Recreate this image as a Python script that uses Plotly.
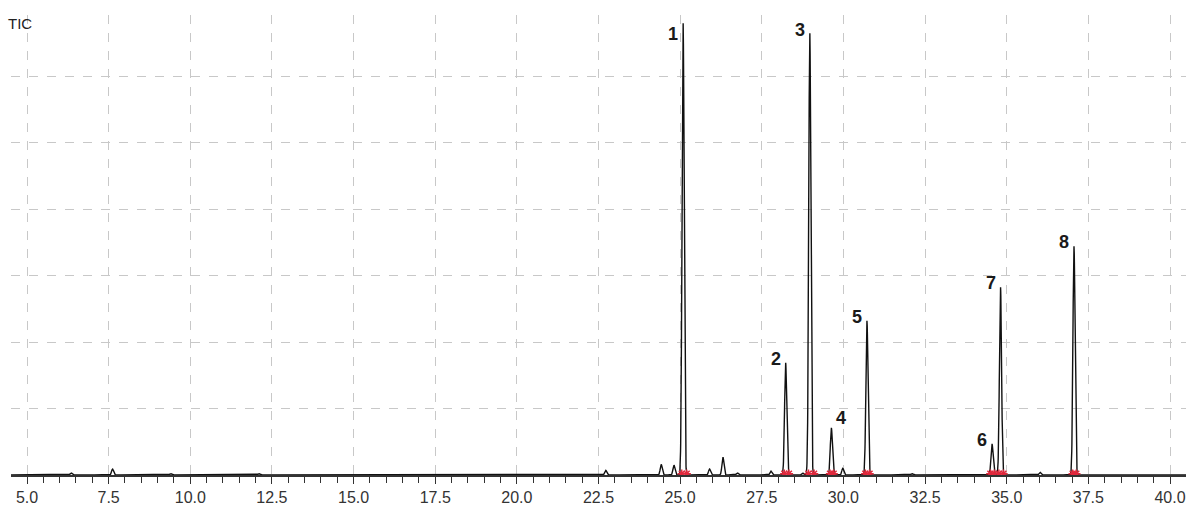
import numpy as np
import plotly.graph_objects as go

# Main (numbered) peaks: retention time (min) and apex height (grid units)
peak_times = [25.09, 28.23, 28.97, 29.63, 30.72, 34.55, 34.81, 37.06]
peak_heights = [6.81, 1.69, 6.66, 0.71, 2.32, 0.47, 2.83, 3.44]
peak_labels = ["1", "2", "3", "4", "5", "6", "7", "8"]

# Minor, unlabelled peaks
minor_times = [6.35, 7.62, 9.40, 12.10, 22.72, 24.42, 24.81, 25.90, 26.31,
               26.75, 27.78, 28.75, 29.98, 32.10, 36.02]
minor_heights = [0.03, 0.09, 0.02, 0.02, 0.07, 0.16, 0.15, 0.09, 0.27,
                 0.03, 0.06, 0.03, 0.10, 0.02, 0.04]

# Integration start/end markers on the baseline
mark_times = [25.05, 25.20, 28.19, 28.33, 28.93, 29.10, 29.59, 29.70,
              30.67, 30.80, 34.50, 34.62, 34.76, 34.90, 37.02, 37.13]

tick_vals = [5.0, 7.5, 10.0, 12.5, 15.0, 17.5, 20.0, 22.5, 25.0, 27.5,
             30.0, 32.5, 35.0, 37.5, 40.0]
tick_text = ["5.0", "7.5", "10.0", "12.5", "15.0", "17.5", "20.0", "22.5",
             "25.0", "27.5", "30.0", "32.5", "35.0", "37.5", "40.0"]

# Rendering of the signal: each peak is a narrow Gaussian on a fine time grid
t = np.arange(4.5, 40.5, 0.004)
signal = np.zeros_like(t)
for pt, ph in zip(peak_times, peak_heights):
    signal += ph * np.exp(-0.5 * ((t - pt) / 0.032) ** 2)
for pt, ph in zip(minor_times, minor_heights):
    signal += ph * np.exp(-0.5 * ((t - pt) / 0.03) ** 2)

fig = go.Figure()

fig.add_trace(go.Scatter(
    x=t, y=signal, mode="lines",
    line=dict(color="#111111", width=1.4),
    hoverinfo="skip", showlegend=False,
))

fig.add_trace(go.Scatter(
    x=mark_times, y=[0.02] * len(mark_times), mode="markers",
    marker=dict(symbol="asterisk-open", size=7, color="#e0283c",
                line=dict(color="#e0283c", width=1.5)),
    hoverinfo="skip", showlegend=False,
))

# Peak number labels beside each apex (peak 4 is labelled on its right)
label_side = ["left", "left", "left", "right", "left", "left", "left", "left"]
label_yshift = [-12, 4, 2, 10, 4, 4, 4, 4]
for pt, ph, lab, side, ys in zip(peak_times, peak_heights, peak_labels,
                                 label_side, label_yshift):
    fig.add_annotation(
        x=pt, y=ph, text=f"<b>{lab}</b>", showarrow=False,
        xanchor="right" if side == "left" else "left",
        yanchor="middle", xshift=-3 if side == "left" else 3, yshift=ys,
        font=dict(family="Liberation Sans, Arial", size=18, color="#1a1a1a"),
    )

fig.add_annotation(
    x=0, y=1.0, xref="paper", yref="paper", text="TIC",
    showarrow=False, xanchor="left", yanchor="middle", xshift=-5, yshift=-8,
    font=dict(family="Liberation Sans, Arial", size=15, color="#222222"),
)

fig.update_xaxes(
    range=[4.51, 40.49],
    tickmode="array", tickvals=tick_vals, ticktext=tick_text,
    ticks="outside", ticklen=7, tickwidth=1, tickcolor="#333333",
    minor=dict(dtick=0.5, tick0=5.0, ticks="outside", ticklen=6,
               tickwidth=1, tickcolor="#333333", showgrid=False),
    showline=True, linecolor="#333333", linewidth=1.5,
    showgrid=True, gridcolor="#c8c8c8", griddash="dash", gridwidth=1,
    zeroline=False,
    tickfont=dict(family="Liberation Sans, Arial", size=16, color="#333333"),
)
fig.update_yaxes(
    range=[0, 6.92], dtick=1, tick0=0,
    showticklabels=False, ticks="",
    showgrid=True, gridcolor="#c8c8c8", griddash="dash", gridwidth=1,
    zeroline=False, showline=False,
)

fig.update_layout(
    width=1186, height=506,
    margin=dict(l=11, r=0, t=15, b=29),
    paper_bgcolor="white", plot_bgcolor="white",
)

fig.write_html("out.html")
